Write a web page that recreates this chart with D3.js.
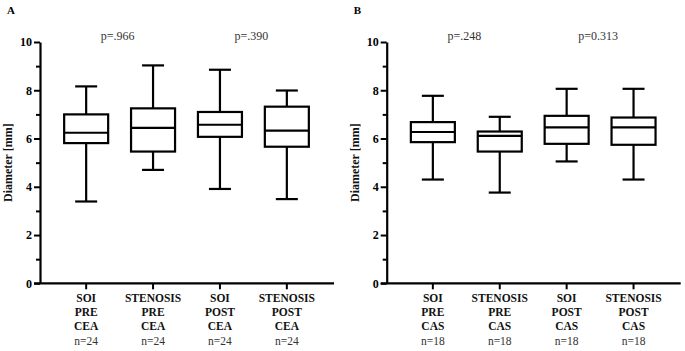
<!DOCTYPE html>
<html lang="en">
<head>
    <meta charset="UTF-8">
    <title>Diameter box plots</title>
    <style>
        body { margin: 0; background: #fff; }
        svg text { font-family: 'Liberation Serif', 'Times New Roman', Times, serif !important; }
    </style>
</head>
<body>
<script src="https://d3js.org/d3.v7.min.js"></script>
<script>

  // data (min, q1, median, q3, max)
  var groupsA = ["SOI|PRE|CEA", "STENOSIS|PRE|CEA", "SOI|POST|CEA", "STENOSIS|POST|CEA"];
  var countsA = ["n=24", "n=24", "n=24", "n=24"];
  var boxesA = [
    [3.39, 5.81, 6.24, 7.00, 8.16],
    [4.70, 5.46, 6.44, 7.25, 9.03],
    [3.91, 6.07, 6.57, 7.10, 8.85],
    [3.49, 5.66, 6.33, 7.32, 7.99]
  ];
  var pValuesA = ["p=.966", "p=.390"];

  var groupsB = ["SOI|PRE|CAS", "STENOSIS|PRE|CAS", "SOI|POST|CAS", "STENOSIS|POST|CAS"];
  var countsB = ["n=18", "n=18", "n=18", "n=18"];
  var boxesB = [
    [4.30, 5.85, 6.27, 6.68, 7.77],
    [3.76, 5.46, 6.11, 6.29, 6.90],
    [5.05, 5.78, 6.46, 6.94, 8.06],
    [4.30, 5.74, 6.46, 6.87, 8.06]
  ];
  var pValuesB = ["p=.248", "p=0.313"];

  var majorTicks = [0, 2, 4, 6, 8, 10];
  var minorTicks = [1, 3, 5, 7, 9];

  var serif = "Liberation Serif";
  var width = 685, height = 351;
  var svg = d3.select("body").append("svg")
          .attr("width", width)
          .attr("height", height)
          .attr("font-family", serif);

  // same y scale for both panels
  var y = d3.scaleLinear().domain([0, 10]).range([283.3, 42]);

  function drawPanel(letter, left, groups, counts, boxes, pvals) {
    var x = d3.scalePoint()
            .domain(groups)
            .range([left, left + 293])
            .padding(0.69);

    var g = svg.append("g").attr("font-family", serif);

    // panel letter
    svg.append("text")
            .attr("x", left - 33)
            .attr("y", 14)
            .attr("font-size", 11)
            .attr("font-weight", "bold")
            .text(letter);

    // y axis title
    g.append("text")
            .attr("transform", "translate(" + (left - 28) + "," + ((y(0) + y(10)) / 2) + ") rotate(-90)")
            .attr("text-anchor", "middle")
            .attr("font-size", 12)
            .attr("font-weight", "bold")
            .attr("fill", "#111")
            .text("Diameter [mm]");

    // minor ticks
    g.append("g")
            .attr("transform", "translate(" + left + ",0)")
            .call(d3.axisLeft(y).tickValues(minorTicks).tickSize(4).tickFormat(""))
            .call(function(a) {
              a.select(".domain").remove();
              a.selectAll("line").attr("stroke-width", 2);
            });

    // y axis
    g.append("g")
            .attr("transform", "translate(" + left + ",0)")
            .call(d3.axisLeft(y).tickValues(majorTicks).tickSize(6).tickSizeOuter(0).tickPadding(2))
            .attr("font-family", serif)
            .call(function(a) {
              a.select(".domain").attr("stroke-width", 2.2);
              a.selectAll("line").attr("stroke-width", 2);
              a.selectAll("text")
                      .attr("font-weight", "bold")
                      .attr("font-size", 12)
                      .attr("fill", "#000");
            });

    // x axis
    var xa = g.append("g")
            .attr("transform", "translate(0," + y(0) + ")");
    xa.append("line")
            .attr("x1", left - 6).attr("x2", left + 294)
            .attr("stroke", "#000").attr("stroke-width", 2.2);
    xa.selectAll(".xt")
            .data(groups)
            .enter().append("line")
            .attr("x1", function(d) { return x(d); })
            .attr("x2", function(d) { return x(d); })
            .attr("y1", 0).attr("y2", 6)
            .attr("stroke", "#000").attr("stroke-width", 2);

    var lbl = xa.selectAll(".xl")
            .data(groups)
            .enter().append("text")
            .attr("text-anchor", "middle")
            .attr("font-size", 11.5)
            .attr("fill", "#111");
    lbl.each(function(d, i) {
      var t = d3.select(this);
      d.split("|").forEach(function(s, k) {
        t.append("tspan")
                .attr("x", x(d))
                .attr("y", 19 + k * 14)
                .attr("font-weight", "bold")
                .text(s);
      });
      t.append("tspan")
              .attr("x", x(d))
              .attr("y", 62)
              .attr("fill", "#333")
              .text(counts[i]);
    });

    // boxes
    var bw = 44, cw = 22;
    var b = g.selectAll(".box")
            .data(boxes)
            .enter().append("g")
            .attr("transform", function(d, i) { return "translate(" + x(groups[i]) + ",0)"; })
            .attr("stroke", "#000")
            .attr("stroke-width", 2.2)
            .attr("fill", "none");

    b.append("line")
            .attr("x1", 0).attr("x2", 0)
            .attr("y1", function(d) { return y(d[4]); })
            .attr("y2", function(d) { return y(d[3]); });
    b.append("line")
            .attr("x1", 0).attr("x2", 0)
            .attr("y1", function(d) { return y(d[1]); })
            .attr("y2", function(d) { return y(d[0]); });
    b.append("line")
            .attr("x1", -cw / 2).attr("x2", cw / 2)
            .attr("y1", function(d) { return y(d[4]); })
            .attr("y2", function(d) { return y(d[4]); });
    b.append("line")
            .attr("x1", -cw / 2).attr("x2", cw / 2)
            .attr("y1", function(d) { return y(d[0]); })
            .attr("y2", function(d) { return y(d[0]); });
    b.append("rect")
            .attr("x", -bw / 2)
            .attr("width", bw)
            .attr("y", function(d) { return y(d[3]); })
            .attr("height", function(d) { return y(d[1]) - y(d[3]); })
            .attr("fill", "#fff");
    b.append("line")
            .attr("x1", -bw / 2).attr("x2", bw / 2)
            .attr("y1", function(d) { return y(d[2]); })
            .attr("y2", function(d) { return y(d[2]); });

    // p values, between each pair of boxes
    g.selectAll(".pv")
            .data(pvals)
            .enter().append("text")
            .attr("x", function(d, i) { return (x(groups[2 * i]) + x(groups[2 * i + 1])) / 2 - 2; })
            .attr("y", 40)
            .attr("text-anchor", "middle")
            .attr("font-size", 12)
            .attr("fill", "#333")
            .text(function(d) { return d; });
  }

  drawPanel("A", 40, groupsA, countsA, boxesA, pValuesA);
  drawPanel("B", 386.7, groupsB, countsB, boxesB, pValuesB);

</script>
</body>
</html>
